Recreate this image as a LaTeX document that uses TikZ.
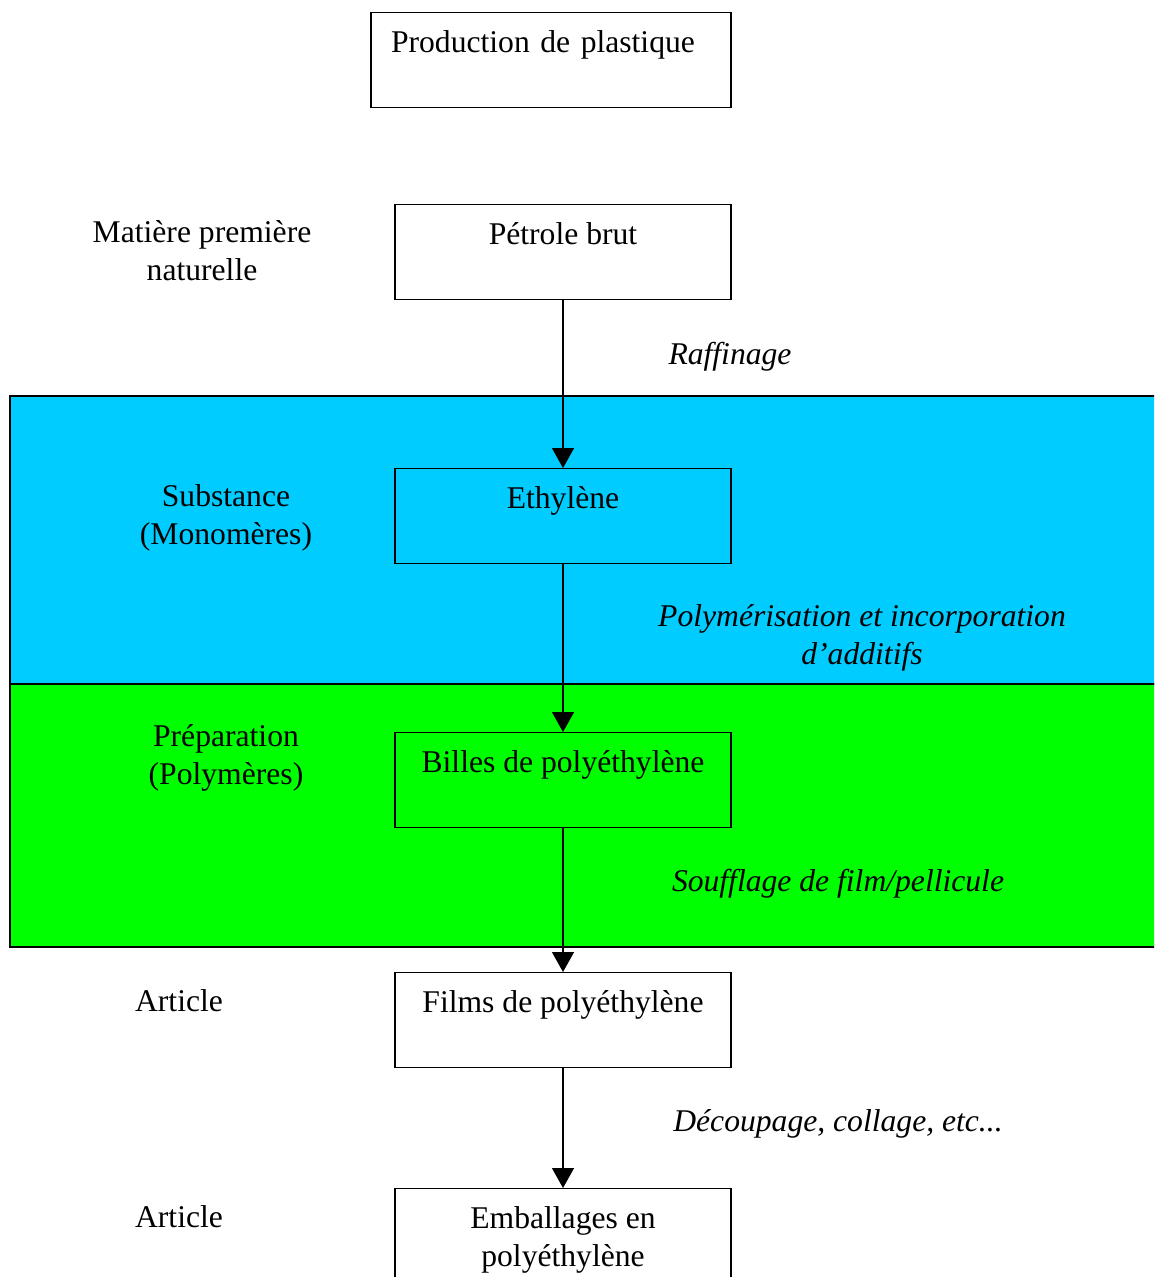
\documentclass[tikz,border=0pt]{standalone}
\usepackage{fontspec}
\setmainfont{Liberation Serif}
\usetikzlibrary{arrows.meta}
\definecolor{monoblue}{HTML}{00CCFF}
\definecolor{polygreen}{HTML}{00FF00}

\begin{document}
\begin{tikzpicture}[x=0.02cm, y=-0.02cm,
        font=\fontsize{18}{21.5}\selectfont,
        stage/.style={draw, line width=0.8pt, minimum width=6.72cm, inner sep=0pt,
            text height=0.8cm, text depth=1.1cm, align=center, anchor=north},
        twostage/.style={stage, text height=1.56cm, text depth=0.34cm},
        title/.style={stage, minimum width=0pt, text width=6.4cm, inner xsep=0.4cm, align=left},
        level/.style={align=center, anchor=base, inner sep=0pt},
        process/.style={level, font=\fontsize{18}{21.5}\selectfont\itshape},
        flow/.style={-{Triangle[length=0.4cm, width=0.44cm]}, line width=0.75pt}]
        \clip (0,0) rectangle (1154,1277);
        % Bands
        \draw[fill=monoblue, line width=0.8pt] (10,396) rectangle (1170,684);
        \draw[fill=polygreen, line width=0.8pt] (10,684) rectangle (1170,947);
        % Stages
        \node[title] (prod) at (551,12) {Production de plastique};
        \node[stage] (petrole) at (563,204) {Pétrole brut};
        \node[stage] (ethylene) at (563,468) {Ethylène};
        \node[stage] (billes) at (563,732) {Billes de polyéthylène};
        \node[stage] (films) at (563,972) {Films de polyéthylène};
        \node[twostage] (emballages) at (563,1188) {Emballages en\\polyéthylène};
        % Levels (base = last line)
        \node[level] (matiere) at (202,280) {Matière première\\naturelle};
        \node[level] (substance) at (226,544) {Substance\\(Monomères)};
        \node[level] (preparation) at (226,784) {Préparation\\(Polymères)};
        \node[level] (article) at (179,1011) {Article};
        \node[level] (articlebis) at (179,1227) {Article};
        % Processes
        \node[process] (raffinage) at (730,364) {Raffinage};
        \node[process] (polymerisation) at (862,664) {Polymérisation et incorporation\\d’additifs};
        \node[process] (soufflage) at (838,891) {Soufflage de film/pellicule};
        \node[process] (decoupage) at (838,1131) {Découpage, collage, etc...};
        % Arrows
        \draw[flow] (petrole) -- (ethylene);
        \draw[flow] (ethylene) -- (billes);
        \draw[flow] (billes) -- (films);
        \draw[flow] (films) -- (emballages);
    \end{tikzpicture}
\end{document}
